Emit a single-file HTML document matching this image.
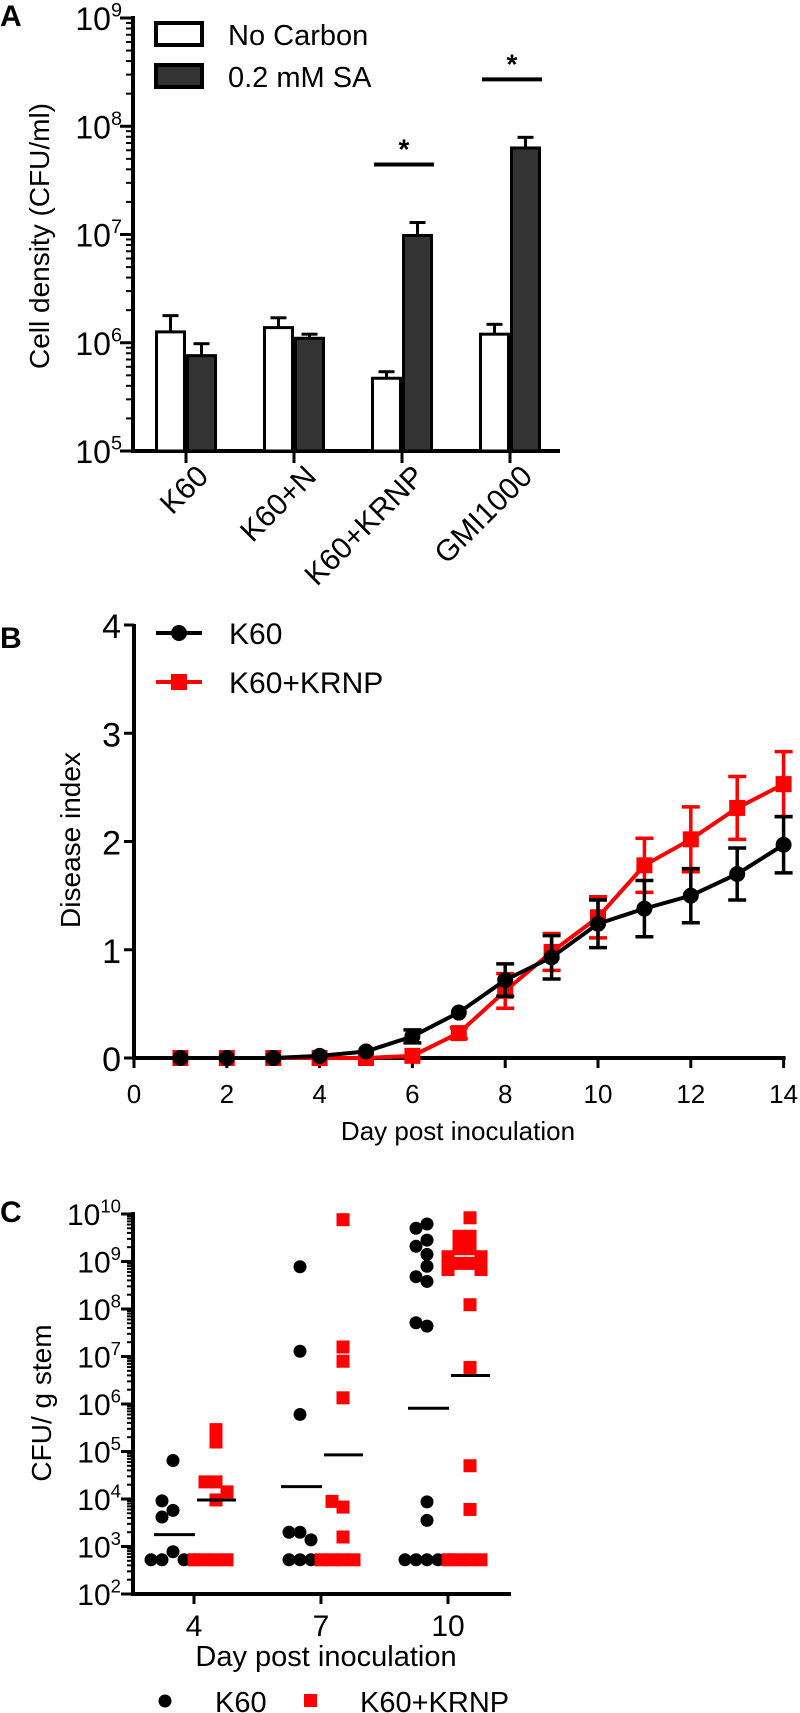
<!DOCTYPE html>
<html><head><meta charset="utf-8"><style>
body{margin:0;background:#fff}
svg{display:block;font-family:"Liberation Sans",sans-serif}
.n{font-family:"Liberation Sans Narrow","Liberation Sans",sans-serif}
</style></head><body>
<svg id="fig" width="800" height="1713" viewBox="0 0 800 1713">
<text x="0" y="26" font-size="30" font-weight="bold">A</text>
<text x="0" y="648" font-size="30" font-weight="bold">B</text>
<text x="0" y="1222" font-size="30" font-weight="bold">C</text>
<g id="ga"></g>
<g id="gb"></g>
<g id="gc"></g>
</svg>
<script>
// ---------- Panel A data ----------
const aCategories = ["K60","K60+N","K60+KRNP","GMI1000"];
const aNoCarbon = [1.26e6, 1.38e6, 4.7e5, 1.2e6];
const aNoCarbonErr = [1.78e6, 1.7e6, 5.4e5, 1.48e6];
const aSA = [7.6e5, 1.1e6, 9.8e6, 6.3e7];
const aSAErr = [9.8e5, 1.2e6, 1.29e7, 7.9e7];
const aSigIndex = [2, 3];
const aTickExps = [5,6,7,8,9];
// ---------- Panel B data ----------
const bDays = [1,2,3,4,5,6,7,8,9,10,11,12,13,14];
const bK60 = [0,0,0,0.02,0.06,0.2,0.42,0.72,0.93,1.24,1.38,1.5,1.7,1.97];
const bK60Err = [0,0,0,0.01,0.01,0.06,0.03,0.15,0.2,0.22,0.26,0.25,0.24,0.26];
const bKRNP = [0,0,0,0,0,0.02,0.23,0.62,0.98,1.3,1.78,2.02,2.31,2.53];
const bKRNPErr = [0,0,0,0,0,0.02,0.05,0.16,0.17,0.19,0.25,0.3,0.29,0.3];
const bXTicks = [0,2,4,6,8,10,12,14];
const bYTicks = [0,1,2,3,4];
// ---------- Panel C data (log10 CFU/g) ----------
const cDays = ["4","7","10"];
const cK60Day4 = [4.81,3.76,3.96,3.62,2.89,2.72,2.72,2.72,2.72];
const cKRNPDay4 = [5.2,5.46,4.36,4.36,4.15,3.98,2.72,2.72,2.72,2.72];
const cK60Day7 = [8.89,7.11,5.78,3.3,3.3,3.14,2.72,2.72,2.72];
const cKRNPDay7 = [9.88,7.2,6.9,6.13,3.83,3.95,3.2,2.72,2.72,2.72,2.72];
const cK60Day10 = [9.79,9.7,9.45,9.32,9.15,8.9,8.68,8.58,7.64,7.71,3.94,3.55,2.72,2.72,2.72,2.72,2.72];
const cKRNPDay10 = [9.92,9.53,9.53,9.27,9.27,9.1,9.1,8.96,8.96,8.83,8.83,8.09,6.77,4.7,3.78,2.72,2.72,2.72,2.72];
const cK60Means = [3.25,4.26,5.91];
const cKRNPMeans = [3.98,4.93,6.6];
const cTickExps = [2,3,4,5,6,7,8,9,10];

const NS="http://www.w3.org/2000/svg";
function mk(parent,tag,attrs){const e=document.createElementNS(NS,tag);for(const k in attrs)e.setAttribute(k,attrs[k]);parent.appendChild(e);return e;}
function txt(parent,attrs,s){const e=mk(parent,"text",attrs);e.textContent=s;return e;}
function pow10(parent,xr,y,exp,fs,name){
  const t=mk(parent,"text",{x:xr,y:y,"text-anchor":"end","font-size":fs});
  
  
  const a=mk(t,"tspan",{});a.textContent="10";
  const b=mk(t,"tspan",{dy:-fs*0.42,"font-size":fs*0.62});b.textContent=String(exp);
  return t;
}

// ===== Panel A =====
(function(){
const g=document.getElementById("ga");
const X0=133, XE=560, Y9=18, Y5=451;
const ly=v=>Y5-(Math.log10(v)-5)*(Y5-Y9)/4;
const band=i=>186+i*108;
const bw=31;
// axes
mk(g,"line",{x1:X0,y1:Y9-2,x2:X0,y2:Y5+2,stroke:"#000","stroke-width":4});
mk(g,"line",{x1:X0-2,y1:Y5,x2:XE,y2:Y5,stroke:"#000","stroke-width":4});
for(let e=5;e<9;e++){for(let m=2;m<10;m++){const y=ly(m*Math.pow(10,e));mk(g,"line",{x1:X0-7,y1:y,x2:X0,y2:y,stroke:"#000","stroke-width":2});}}
aTickExps.forEach(e=>{const y=ly(Math.pow(10,e));mk(g,"line",{x1:X0-13,y1:y,x2:X0,y2:y,stroke:"#000","stroke-width":3});
  pow10(g,122,y+12,e,32,"y-tick-label");});
const yt=txt(g,{x:0,y:0,"font-size":28,"text-anchor":"middle",transform:"translate(49,236) rotate(-90)"},"Cell density (CFU/ml)");

aCategories.forEach((c,i)=>{
  const cx=band(i);
  mk(g,"line",{x1:cx,y1:Y5,x2:cx,y2:Y5+12,stroke:"#000","stroke-width":3});
  const bars=[[aNoCarbon,aNoCarbonErr,"#fff",cx-bw,"bar-no-carbon-"+c],[aSA,aSAErr,"#333",cx,"bar-sa-"+c]];
  bars.forEach(b=>{
    const v=b[0][i], ev=b[1][i], x=b[3];
    const ey=ly(ev), ty=ly(v);
    const el=mk(g,"line",{x1:x+bw/2,y1:ty,x2:x+bw/2,y2:ey,stroke:"#000","stroke-width":3});
    
    mk(g,"line",{x1:x+bw/2-8,y1:ey,x2:x+bw/2+8,y2:ey,stroke:"#000","stroke-width":3});
    const r=mk(g,"rect",{x:x+1.5,y:ty,width:bw-3,height:Y5-ty,fill:b[2],stroke:"#000","stroke-width":3});
    
  });
  const t=txt(g,{x:0,y:0,"font-size":30,"text-anchor":"end",transform:`translate(${cx+24},478) rotate(-45)`},c);
  
});
aSigIndex.forEach(i=>{
  const cx=band(i), top=ly(aSAErr[i])-58;
  const l=mk(g,"line",{x1:cx-28,y1:top,x2:cx+32,y2:top,stroke:"#000","stroke-width":4});
  
  const s=txt(g,{x:cx+2,y:top-6,"font-size":28,"font-weight":"bold","text-anchor":"middle"},"*");
  
});
const l1=mk(g,"rect",{x:156,y:23,width:46,height:22,fill:"#fff",stroke:"#000","stroke-width":4});

const l2=mk(g,"rect",{x:156,y:65,width:46,height:22,fill:"#333",stroke:"#000","stroke-width":4});

const t1=txt(g,{x:228,y:45,"font-size":29},"No Carbon");
const t2=txt(g,{x:228,y:87,"font-size":29},"0.2 mM SA");
})();

// ===== Panel B =====
(function(){
const g=document.getElementById("gb");
const X0=134, Y0=1058, Y4=625;
const sx=d=>X0+d*46.4;
const sy=v=>Y0-v*(Y0-Y4)/4;
mk(g,"line",{x1:X0,y1:Y4-1,x2:X0,y2:Y0+2,stroke:"#000","stroke-width":4});
mk(g,"line",{x1:X0-2,y1:Y0,x2:sx(14)+2,y2:Y0,stroke:"#000","stroke-width":4});
bYTicks.forEach(v=>{const y=sy(v);mk(g,"line",{x1:X0-10,y1:y,x2:X0,y2:y,stroke:"#000","stroke-width":3});
  const t=txt(g,{x:X0-13,y:y+13,"font-size":34,"text-anchor":"end",class:"n"},String(v));
  });
bXTicks.forEach(d=>{const x=sx(d);mk(g,"line",{x1:x,y1:Y0,x2:x,y2:Y0+10,stroke:"#000","stroke-width":3});
  const t=txt(g,{x:x,y:Y0+45,"font-size":26,"text-anchor":"middle"},String(d));
  });
const xt=txt(g,{x:458,y:1140,"font-size":26,"text-anchor":"middle","xml:space":"preserve"},"Day  post inoculation");

const yt=txt(g,{x:0,y:0,"font-size":28,"text-anchor":"middle",transform:"translate(80,840) rotate(-90)"},"Disease index");

function series(vals,errs,col,shape,name){
  const pts=bDays.map((d,i)=>sx(d)+","+sy(vals[i])).join(" ");
  const pl=mk(g,"polyline",{points:pts,fill:"none",stroke:col,"stroke-width":4});
  
  bDays.forEach((d,i)=>{
    const x=sx(d),y=sy(vals[i]);
    if(errs[i]>0.03){const a=sy(vals[i]+errs[i]),b=sy(vals[i]-errs[i]);
      const e=mk(g,"line",{x1:x,y1:a,x2:x,y2:b,stroke:col,"stroke-width":3.5});
      
      mk(g,"line",{x1:x-9,y1:a,x2:x+9,y2:a,stroke:col,"stroke-width":3.5});
      mk(g,"line",{x1:x-9,y1:b,x2:x+9,y2:b,stroke:col,"stroke-width":3.5});}
    let m;
    if(shape==="c")m=mk(g,"circle",{cx:x,cy:y,r:8,fill:col});
    else m=mk(g,"rect",{x:x-8,y:y-8,width:16,height:16,fill:col});
    
  });
}
series(bKRNP,bKRNPErr,"#f00","s","k60-krnp");
series(bK60,bK60Err,"#000","c","k60");
mk(g,"line",{x1:156,y1:633,x2:202,y2:633,stroke:"#000","stroke-width":4});
const lc=mk(g,"circle",{cx:179,cy:633,r:8,fill:"#000"});
mk(g,"line",{x1:156,y1:682,x2:202,y2:682,stroke:"#f00","stroke-width":4});
const ls=mk(g,"rect",{x:171,y:674,width:16,height:16,fill:"#f00"});
const t1=txt(g,{x:229,y:644,"font-size":30,class:"n"},"K60");
const t2=txt(g,{x:229,y:693,"font-size":30,class:"n"},"K60+KRNP");
})();

// ===== Panel C =====
(function(){
const g=document.getElementById("gc");
const X0=133, XE=511, Y10=1214, Y2=1594;
const sy=v=>Y2-(v-2)*(Y2-Y10)/8;
const tick=i=>194+i*127;
mk(g,"line",{x1:X0,y1:Y10-2,x2:X0,y2:Y2+2,stroke:"#000","stroke-width":4});
mk(g,"line",{x1:X0-2,y1:Y2,x2:XE,y2:Y2,stroke:"#000","stroke-width":4});
for(let e=2;e<10;e++){for(let m=2;m<10;m++){const y=sy(e+Math.log10(m));mk(g,"line",{x1:X0-6,y1:y,x2:X0,y2:y,stroke:"#000","stroke-width":2});}}
cTickExps.forEach(e=>{const y=sy(e);mk(g,"line",{x1:X0-12,y1:y,x2:X0,y2:y,stroke:"#000","stroke-width":3});
  pow10(g,121,y+11,e,30,"y-tick-label");});
cDays.forEach((d,i)=>{const x=tick(i);mk(g,"line",{x1:x,y1:Y2,x2:x,y2:Y2+10,stroke:"#000","stroke-width":3});
  const t=txt(g,{x:x,y:1636,"font-size":30,"text-anchor":"middle"},d);
  });
const xt=txt(g,{x:326,y:1666,"font-size":29,"text-anchor":"middle"},"Day post inoculation");

const yt=txt(g,{x:0,y:0,"font-size":28,"text-anchor":"middle",transform:"translate(51,1403) rotate(-90)"},"CFU/ g stem");

function swarm(vals,cx,col,shape,name){
  const placed=[];
  vals.forEach(v=>{
    const y=sy(v);let x=cx;
    const offs=[0,-11,11,-22,22,-33,33,-44,44];
    for(const o of offs){const tx=cx+o;if(placed.every(p=>Math.hypot(p[0]-tx,p[1]-y)>=11)){x=tx;break;}}
    placed.push([x,y]);
    let m;
    if(shape==="c")m=mk(g,"circle",{cx:x,cy:y,r:6.5,fill:col});
    else m=mk(g,"rect",{x:x-6.5,y:y-6.5,width:13,height:13,fill:col});
    
  });
}
const k60Groups=[cK60Day4,cK60Day7,cK60Day10], krGroups=[cKRNPDay4,cKRNPDay7,cKRNPDay10];
cDays.forEach((d,i)=>{
  const x=tick(i);
  swarm(k60Groups[i],x-21,"#000","c","k60");
  swarm(krGroups[i],x+22,"#f00","s","k60-krnp");
  const m1=mk(g,"line",{x1:x-40,y1:sy(cK60Means[i]),x2:x+1,y2:sy(cK60Means[i]),stroke:"#000","stroke-width":3});
  
  const m2=mk(g,"line",{x1:x+3,y1:sy(cKRNPMeans[i]),x2:x+42,y2:sy(cKRNPMeans[i]),stroke:"#000","stroke-width":3});
  
});
const lc=mk(g,"circle",{cx:165,cy:1701,r:6.5,fill:"#000"});
const ls=mk(g,"rect",{x:304,y:1694,width:13,height:13,fill:"#f00"});
const t1=txt(g,{x:215,y:1712,"font-size":29},"K60");
const t2=txt(g,{x:360,y:1712,"font-size":29},"K60+KRNP");
})();
</script>
</body></html>
